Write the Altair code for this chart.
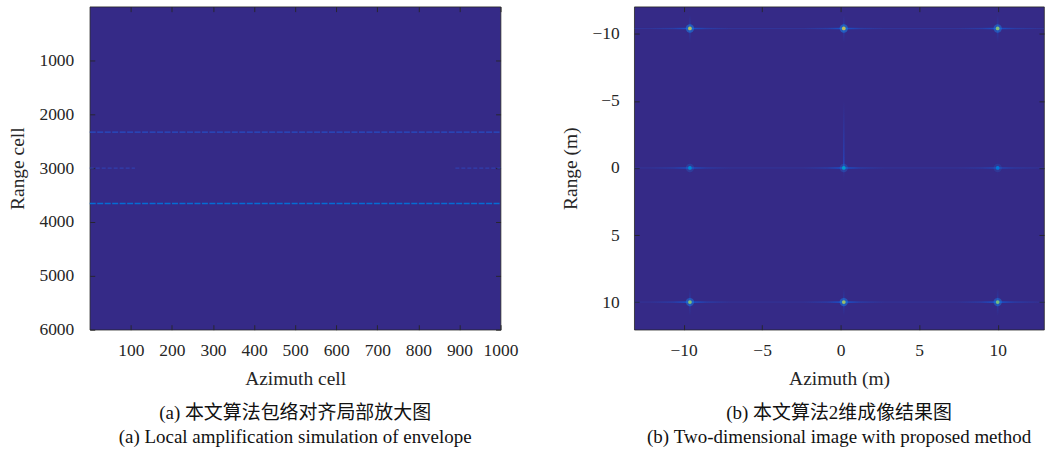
import altair as alt
import pandas as pd

# ---------------- data ----------------
# (a) envelope alignment, local zoom
az_cell_ticks = [100, 200, 300, 400, 500, 600, 700, 800, 900, 1000]
range_cell_ticks = [1000, 2000, 3000, 4000, 5000, 6000]
line_range = [2330, 3655]          # range cells of the aligned envelopes
line_start = [0, 0]
line_end = [1000, 1000]
line_level = [0.10, 0.20]          # normalised amplitude
seg_range = [3000, 3000]           # faint partial envelope
seg_start = [0, 890]
seg_end = [110, 1000]
seg_level = [0.07, 0.07]

# (b) 2-D image
m_ticks = [-10, -5, 0, 5, 10]
target_az = [-9.6, 0.2, 10.0, -9.6, 0.2, 10.0, -9.6, 0.2, 10.0]
target_rg = [-10.4, -10.4, -10.4, 0.0, 0.0, 0.0, 10.0, 10.0, 10.0]
target_peak = [0.70, 0.72, 0.62, 0.28, 0.35, 0.22, 0.62, 0.66, 0.60]
target_hlev = [0.9, 0.9, 0.85, 0.75, 0.9, 0.55, 0.85, 0.85, 0.85]  # range-line arm strength
target_vlev = [0.8, 0.8, 0.75, 0.05, 0.35, 0.05, 0.8, 0.8, 0.8]    # azimuth-line arm strength
streak_az = [0.2]
streak_top = [-5.0]
streak_bot = [0.0]

# ---------------- styles ----------------
SERIF = "Liberation Serif"
CAP = "Liberation Serif, Noto Sans CJK SC"
INK = "#262626"
BG = "#352a87"
parula = ["#352a87", "#0f5cdd", "#1481d6", "#06a4ca", "#2eb7a4",
          "#87bf77", "#d1bb59", "#fec832", "#f9fb0e"]
pscale = alt.Scale(domain=[i / 8 for i in range(9)], range=parula)

def ax(orient, values, title=None, labels=True, pad=12, tpad=8):
    kw = dict(orient=orient, values=values, offset=-5, tickSize=5, tickColor=INK,
              tickWidth=0.9, domain=False, grid=False, labels=labels, format="d",
              labelFont=SERIF, labelFontSize=17.5, labelColor=INK,
              labelPadding=pad, labelOverlap=False, labelFlush=False)
    if title:
        kw.update(title=title, titleFont=SERIF, titleFontSize=19.5,
                  titleFontWeight="normal", titleColor=INK, titlePadding=tpad)
    else:
        kw.update(title=None)
    return alt.Axis(**kw)

# ---------------- panel (a) ----------------
xs_a = alt.Scale(domain=[0, 1000], nice=False, zero=False)
ys_a = alt.Scale(domain=[0, 6000], nice=False, zero=False, reverse=True)

df_lines = pd.DataFrame({"r": line_range, "x0": line_start, "x1": line_end, "lev": line_level})
df_seg = pd.DataFrame({"r": seg_range, "x0": seg_start, "x1": seg_end, "lev": seg_level})

lines = alt.Chart(df_lines).mark_rule(strokeWidth=1.4, opacity=0.9, strokeDash=[6, 1.5]).encode(
    x=alt.X("x0:Q", scale=xs_a, axis=ax("bottom", az_cell_ticks, "Azimuth cell", pad=12, tpad=10)),
    x2="x1:Q",
    y=alt.Y("r:Q", scale=ys_a, axis=ax("left", range_cell_ticks, "Range cell", pad=16, tpad=11)),
    color=alt.Color("lev:Q", scale=pscale, legend=None),
)
segs = alt.Chart(df_seg).mark_rule(strokeWidth=1.2, opacity=0.8, strokeDash=[4, 2]).encode(
    x=alt.X("x0:Q", scale=xs_a, axis=None), x2="x1:Q",
    y=alt.Y("r:Q", scale=ys_a, axis=None),
    color=alt.Color("lev:Q", scale=pscale, legend=None),
)
mirror_a = alt.Chart(df_lines).mark_point(opacity=0).encode(
    x=alt.X("x0:Q", scale=xs_a, axis=ax("top", az_cell_ticks, labels=False)),
    y=alt.Y("r:Q", scale=ys_a, axis=ax("right", range_cell_ticks, labels=False)),
)
left = alt.layer(lines, segs, mirror_a).resolve_axis(x="independent", y="independent").properties(
    width=412, height=324,
    title=alt.TitleParams(
        text=["(a) 本文算法包络对齐局部放大图", "(a) Local amplification simulation of envelope"],
        orient="bottom", anchor="middle", frame="group", font=CAP, fontSize=19,
        fontWeight="normal", color="#111111", lineHeight=24, offset=17),
)

# ---------------- panel (b) ----------------
xs_b = alt.Scale(domain=[-13.15, 12.95], nice=False, zero=False)
ys_b = alt.Scale(domain=[-12.03, 12.06], nice=False, zero=False, reverse=True)

df_t = pd.DataFrame({"az": target_az, "rg": target_rg, "peak": target_peak,
                     "hl": target_hlev, "vl": target_vlev})
df_rows = pd.DataFrame({"rg": sorted(set(target_rg))})
df_streak = pd.DataFrame({"az": streak_az, "top": streak_top, "bot": streak_bot})

def grad(horizontal, col="15,92,221"):
    stops = [
        {"offset": 0.0, "color": f"rgba({col},0)"},
        {"offset": 0.30, "color": f"rgba({col},0.25)"},
        {"offset": 0.45, "color": f"rgba({col},0.7)"},
        {"offset": 0.5, "color": f"rgba({col},1)"},
        {"offset": 0.55, "color": f"rgba({col},0.7)"},
        {"offset": 0.70, "color": f"rgba({col},0.25)"},
        {"offset": 1.0, "color": f"rgba({col},0)"},
    ]
    g = {"gradient": "linear", "stops": stops, "x1": 0, "y1": 0}
    if horizontal:
        g.update(x2=1, y2=0)
    else:
        g.update(x2=0, y2=1)
    return g

rows = alt.Chart(df_rows).mark_rule(strokeWidth=1, color="#2a4fc4", opacity=0.3).encode(
    x=alt.datum(-13.15, scale=xs_b, axis=None), x2=alt.datum(12.95),
    y=alt.Y("rg:Q", scale=ys_b, axis=None),
)
harm = alt.Chart(df_t).transform_calculate(
    x0="datum.az - 2.6", x1="datum.az + 2.6", y0="datum.rg - 0.06", y1="datum.rg + 0.06"
).mark_rect(fill=grad(True)).encode(
    x=alt.X("x0:Q", scale=xs_b, axis=ax("bottom", m_ticks, "Azimuth (m)", pad=12, tpad=10)),
    x2="x1:Q",
    y=alt.Y("y0:Q", scale=ys_b, axis=ax("left", m_ticks, "Range (m)", pad=15, tpad=11)),
    y2="y1:Q",
    opacity=alt.Opacity("hl:Q", scale=None),
)
varm = alt.Chart(df_t).transform_calculate(
    x0="datum.az - 0.05", x1="datum.az + 0.05", y0="datum.rg - 1.0", y1="datum.rg + 1.0"
).mark_rect(fill=grad(False)).encode(
    x=alt.X("x0:Q", scale=xs_b, axis=None), x2="x1:Q",
    y=alt.Y("y0:Q", scale=ys_b, axis=None), y2="y1:Q",
    opacity=alt.Opacity("vl:Q", scale=None),
)
streak = alt.Chart(df_streak).transform_calculate(
    x0="datum.az - 0.05", x1="datum.az + 0.05"
).mark_rect(fill={"gradient": "linear", "x1": 0, "y1": 0, "x2": 0, "y2": 1,
                  "stops": [{"offset": 0, "color": "rgba(30,80,210,0)"},
                            {"offset": 1, "color": "rgba(30,80,210,0.6)"}]}).encode(
    x=alt.X("x0:Q", scale=xs_b, axis=None), x2="x1:Q",
    y=alt.Y("top:Q", scale=ys_b, axis=None), y2="bot:Q",
)
glow = alt.Chart(df_t).mark_circle(size=70, color="#1a7fe0").encode(
    x=alt.X("az:Q", scale=xs_b, axis=None), y=alt.Y("rg:Q", scale=ys_b, axis=None),
    opacity=alt.Opacity("peak:Q", scale=alt.Scale(domain=[0, 0.7], range=[0, 0.55]), legend=None),
)
core = alt.Chart(df_t).mark_circle(size=14, opacity=1).encode(
    x=alt.X("az:Q", scale=xs_b, axis=None), y=alt.Y("rg:Q", scale=ys_b, axis=None),
    color=alt.Color("peak:Q", scale=pscale, legend=None),
)
mirror_b = alt.Chart(df_t).mark_point(opacity=0).encode(
    x=alt.X("az:Q", scale=xs_b, axis=ax("top", m_ticks, labels=False)),
    y=alt.Y("rg:Q", scale=ys_b, axis=ax("right", m_ticks, labels=False)),
)
right = alt.layer(rows, harm, varm, streak, glow, core, mirror_b).resolve_axis(
    x="independent", y="independent").properties(
    width=411, height=324,
    title=alt.TitleParams(
        text=["(b) 本文算法2维成像结果图", "(b) Two-dimensional image with proposed method"],
        orient="bottom", anchor="middle", frame="group", font=CAP, fontSize=19,
        fontWeight="normal", color="#111111", lineHeight=24, offset=17),
)

chart = alt.hconcat(left, right, spacing=42).resolve_scale(
    color="independent", opacity="independent"
).properties(
    padding={"left": 7, "top": 5, "right": 0, "bottom": 0},
    background="white",
).configure_view(fill=BG, stroke=INK, strokeWidth=0.8)

chart.save("out.html", embed_options={"renderer": "svg", "actions": False})
